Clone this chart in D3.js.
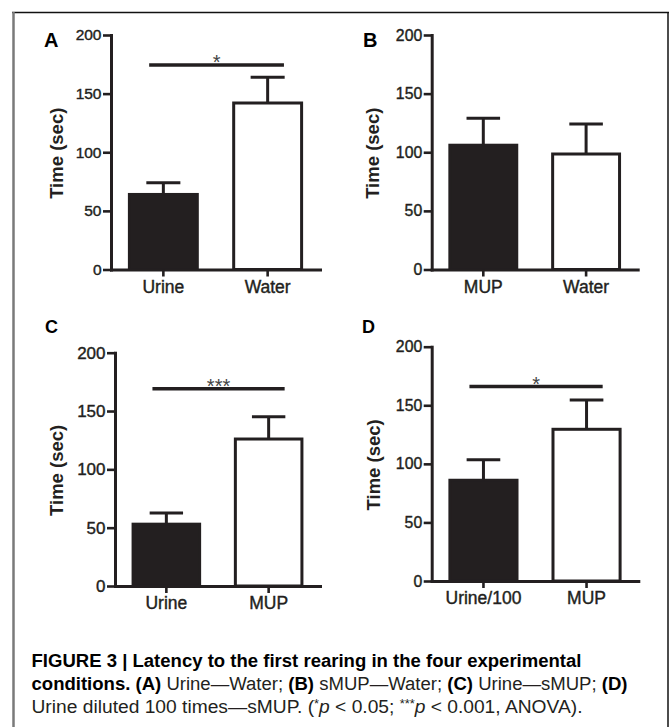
<!DOCTYPE html>
<html><head><meta charset="utf-8">
<script src="https://cdn.jsdelivr.net/npm/d3@7"></script>
<style>body{margin:0;background:#fff} svg{display:block}</style>
</head><body>
<script>
// ---- data ----
const panelLetters = ["A", "B", "C", "D"];
const categoriesA = ["Urine", "Water"];
const categoriesB = ["MUP", "Water"];
const categoriesC = ["Urine", "MUP"];
const categoriesD = ["Urine/100", "MUP"];
const meansA = [64, 142];
const meansB = [106, 98.5];
const meansC = [53, 126];
const meansD = [86, 129.5];
const semA = [10, 22];
const semB = [23, 25.5];
const semC = [9.5, 19];
const semD = [17.5, 25];
const sigLevels = [174.5, null, 169, 166];
const sigLabels = ["*", "", "***", "*"];
const yTicks = [0, 50, 100, 150, 200];
const yLabel = "Time (sec)";

// ---- layout (positions/styles) ----
const W = 671, H = 727;
const ink = "#231f20";
const barFills = [ink, "#ffffff"];
const layout = [
  {axisX:111, axisEnd:320, y0:269.5, yTop:35, lx:44, ly:46.5, ls:20, ylabX:62.8, tickFont:15.5, xlabY:293},
  {axisX:431.7, axisEnd:637.7, y0:269.5, yTop:35, lx:363, ly:46.5, ls:20, ylabX:379.3, tickFont:15.8, xlabY:293},
  {axisX:115, axisEnd:320, y0:586, yTop:352.7, lx:45, ly:333.3, ls:18, ylabX:63.3, tickFont:17, xlabY:609.3},
  {axisX:431.7, axisEnd:638.3, y0:581, yTop:346.7, lx:362, ly:333.3, ls:18, ylabX:380, tickFont:15.8, xlabY:604}
];
const panels = [
  {cats:categoriesA, means:meansA, sem:semA},
  {cats:categoriesB, means:meansB, sem:semB},
  {cats:categoriesC, means:meansC, sem:semC},
  {cats:categoriesD, means:meansD, sem:semD}
];
const FONT = "'Liberation Sans', Arial, Helvetica, sans-serif";

const svg = d3.select("body").append("svg").attr("width", W).attr("height", H);

// frame
svg.append("line").attr("x1",12).attr("x2",669).attr("y1",12.5).attr("y2",12.5).attr("stroke","#111").attr("stroke-width",1.5);
svg.append("line").attr("x1",13.5).attr("x2",13.5).attr("y1",12).attr("y2",H).attr("stroke","#7a7a7a").attr("stroke-width",2.5);
svg.append("line").attr("x1",668).attr("x2",668).attr("y1",12).attr("y2",H).attr("stroke","#111").attr("stroke-width",1.5);

panels.forEach((p, i) => {
  const L = layout[i];
  const g = svg.append("g");
  const y = d3.scaleLinear().domain([0, 200]).range([L.y0, L.yTop]);
  const x = d3.scaleBand().domain(p.cats).range([L.axisX, L.axisEnd]).paddingInner(0.32).paddingOuter(0.162);
  const bw = x.bandwidth();

  // bars
  g.selectAll("rect.bar").data(p.cats).join("rect")
    .attr("x", d => x(d) + 1.5)
    .attr("width", bw - 3)
    .attr("y", (d, j) => y(p.means[j]))
    .attr("height", (d, j) => L.y0 - y(p.means[j]))
    .attr("fill", (d, j) => barFills[j])
    .attr("stroke", ink).attr("stroke-width", 3);

  // error bars (upper SEM)
  p.cats.forEach((c, j) => {
    const cx = x(c) + bw / 2;
    const top = y(p.means[j] + p.sem[j]);
    g.append("line").attr("x1", cx).attr("x2", cx).attr("y1", y(p.means[j])).attr("y2", top)
      .attr("stroke", ink).attr("stroke-width", 3);
    g.append("line").attr("x1", cx - bw * 0.24).attr("x2", cx + bw * 0.24).attr("y1", top).attr("y2", top)
      .attr("stroke", ink).attr("stroke-width", 3);
  });

  // axes
  const yAxis = g.append("g").attr("transform", `translate(${L.axisX},0)`)
    .call(d3.axisLeft(y).tickValues(yTicks).tickSize(8).tickSizeOuter(0).tickPadding(1.5));
  const xAxis = g.append("g").attr("transform", `translate(0,${L.y0})`)
    .call(d3.axisBottom(x).tickSize(7).tickSizeOuter(0));
  [yAxis, xAxis].forEach(a => {
    a.select(".domain").attr("stroke", ink).attr("stroke-width", 3).attr("stroke-linecap", "square");
    a.selectAll(".tick line").attr("stroke", ink).attr("stroke-width", 2.6);
    a.attr("font-family", FONT);
  });
  yAxis.selectAll(".tick text").attr("font-size", L.tickFont).attr("fill", ink)
    .attr("stroke", ink).attr("stroke-width", 0.4);
  xAxis.selectAll(".tick text").attr("font-size", 17.5).attr("fill", ink)
    .attr("stroke", ink).attr("stroke-width", 0.4)
    .attr("y", L.xlabY - L.y0).attr("dy", 0);

  // y label
  const cy = (L.y0 + L.yTop) / 2 + 1;
  g.append("text").attr("transform", `translate(${L.ylabX},${cy}) rotate(-90)`)
    .attr("text-anchor", "middle").attr("font-family", FONT).attr("font-weight", "bold")
    .attr("font-size", 18.5).attr("fill", ink).text(yLabel);

  // panel letter
  g.append("text").attr("x", L.lx).attr("y", L.ly).attr("font-family", FONT).attr("font-weight", "bold")
    .attr("font-size", L.ls).attr("fill", "#000").text(panelLetters[i]);

  // significance
  if (sigLevels[i] !== null) {
    const x1 = x(p.cats[0]) + bw * 0.3, x2 = x(p.cats[1]) + bw * 0.73;
    const sy = y(sigLevels[i]);
    g.append("line").attr("x1", x1).attr("x2", x2).attr("y1", sy).attr("y2", sy)
      .attr("stroke", ink).attr("stroke-width", 3.5);
    g.append("text").attr("x", (x1 + x2) / 2).attr("y", sy + 4).attr("text-anchor", "middle")
      .attr("font-family", FONT).attr("font-size", 20).attr("fill", "#444").text(sigLabels[i]);
  }
});

// caption
const CF = "'Liberation Sans Narrow', 'Arial Narrow', 'Liberation Sans', Arial, sans-serif";
const cap = svg.append("g").attr("font-family", CF).attr("font-size", 18).attr("fill", "#231f20");
cap.append("text").attr("x", 31.5).attr("y", 667).attr("font-weight", "bold").attr("fill", "#000")
  .attr("textLength", 550).attr("lengthAdjust", "spacingAndGlyphs")
  .text("FIGURE 3 | Latency to the first rearing in the four experimental");
const l2 = cap.append("text").attr("x", 31.5).attr("y", 689.5).attr("textLength", 596).attr("lengthAdjust", "spacingAndGlyphs");
[["conditions. (A)", true], [" Urine—Water; ", false], ["(B)", true], [" sMUP—Water; ", false],
 ["(C)", true], [" Urine—sMUP; ", false], ["(D)", true]].forEach(([t, b]) => {
  l2.append("tspan").attr("font-weight", b ? "bold" : "normal").attr("fill", b ? "#000" : "#231f20").text(t);
});
const l3 = cap.append("text").attr("x", 31.5).attr("y", 712.5).attr("textLength", 551).attr("lengthAdjust", "spacingAndGlyphs");
l3.append("tspan").text("Urine diluted 100 times—sMUP. (");
l3.append("tspan").attr("font-size", 12).attr("dy", -5).text("*");
l3.append("tspan").attr("font-style", "italic").attr("dy", 5).text("p");
l3.append("tspan").text(" < 0.05; ");
l3.append("tspan").attr("font-size", 12).attr("dy", -5).text("***");
l3.append("tspan").attr("font-style", "italic").attr("dy", 5).text("p");
l3.append("tspan").text(" < 0.001, ANOVA).");
</script>
</body></html>
